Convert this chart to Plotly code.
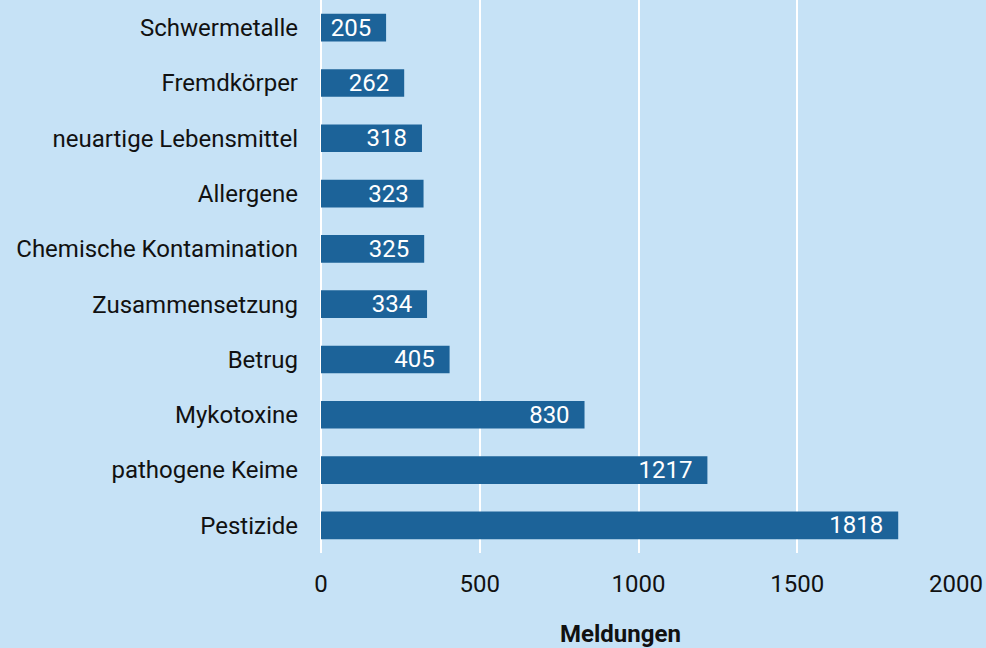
import plotly.graph_objects as go

# categories, bottom to top
categories = [
    "Pestizide", "pathogene Keime", "Mykotoxine", "Betrug", "Zusammensetzung",
    "Chemische Kontamination", "Allergene", "neuartige Lebensmittel",
    "Fremdkörper", "Schwermetalle",
]
meldungen = [1818, 1217, 830, 405, 334, 325, 323, 318, 262, 205]

x_ticks = [0, 500, 1000, 1500, 2000]

bg = "#c6e2f6"
bar_color = "#1c6399"

fig = go.Figure()

fig.add_trace(go.Bar(
    x=meldungen,
    y=categories,
    orientation="h",
    marker=dict(color=bar_color, line=dict(width=0)),
    texttemplate="%{x}&nbsp;&nbsp;",
    textposition="inside",
    insidetextanchor="end",
    constraintext="none",
    textfont=dict(color="white", size=24, family="Roboto"),
    hovertemplate="%{y}: %{x}<extra></extra>",
))

fig.update_layout(
    width=986,
    height=648,
    paper_bgcolor=bg,
    plot_bgcolor=bg,
    font=dict(family="Roboto", size=24, color="#111111"),
    margin=dict(l=321, r=30, t=0, b=95),
    bargap=0.5,
    showlegend=False,
    xaxis=dict(
        range=[0, 2000],
        tickvals=x_ticks,
        showgrid=True,
        gridcolor="white",
        gridwidth=2,
        zeroline=True,
        zerolinecolor="white",
        zerolinewidth=2,
        ticks="",
        ticklabelstandoff=14,
    ),
    yaxis=dict(
        showgrid=False,
        ticks="",
        ticklabelstandoff=22,
    ),
)

# axis title placed as in the original (slightly left of the plot centre)
fig.add_annotation(
    text="<b>Meldungen</b>",
    xref="paper", yref="paper",
    x=0.4724, y=-0.146,
    xanchor="center", yanchor="middle",
    showarrow=False,
    font=dict(size=24, color="#111111"),
)

# page without body margin so the figure sits at the window's corner
fig.write_html(
    "out.html",
    config={"displayModeBar": False},
    post_script="document.body.style.margin='0';",
)
